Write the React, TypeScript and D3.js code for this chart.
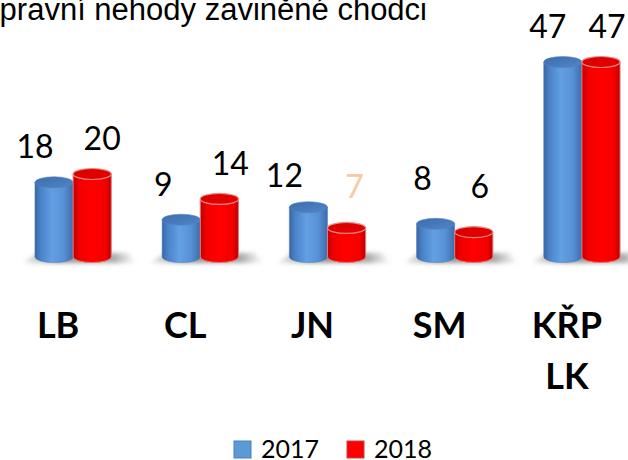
import React from "react";
import * as d3 from "d3";

const title = "Dopravní nehody zaviněné chodci";
const categories = ["LB", "CL", "JN", "SM", "KŘP\nLK"];
const seriesNames = ["2017", "2018"];
const values2017 = [18, 9, 12, 8, 47];
const values2018 = [20, 14, 7, 6, 47];
const labelColors2018 = ["#000", "#000", "#F8C9A4", "#000", "#000"];
const labelDx2017 = [-19, -18, -24, -13, -15];
const labelDx2018 = [10, 11, 8, 6, 6];
const labelDy2017 = [0, 0, 4, -8, 0];

const W = 628;
const H = 460;

export default function App() {
  const x0 = d3.scaleBand<string>().domain(categories).range([9.5, 645.5]).paddingInner(0.4).paddingOuter(0.2);
  const x1 = d3.scaleBand<string>().domain(seriesNames).range([0, x0.bandwidth()]);
  const y = d3.scaleLinear().domain([0, 47]).range([257, 62]);
  const series = [values2017, values2018];
  const rx = x1.bandwidth() / 2;
  const ry = 5.5;

  const cyl = (cx: number, yt: number, yb: number) =>
    `M${cx - rx},${yt} L${cx - rx},${yb} A${rx},${ry} 0 0 0 ${cx + rx},${yb} L${cx + rx},${yt} Z`;

  return (
    <svg width={W} height={H} style={{ position: "absolute", left: 0, top: 0, background: "#fff" }}>
      <defs>
        <linearGradient id="blueBody" x1="0" x2="1" y1="0" y2="0">
          <stop offset="0%" stopColor="#3a66a3" />
          <stop offset="15%" stopColor="#4b82c8" />
          <stop offset="45%" stopColor="#62a0e2" />
          <stop offset="75%" stopColor="#5892d6" />
          <stop offset="100%" stopColor="#3c6cab" />
        </linearGradient>
        <linearGradient id="blueTop" x1="0" x2="1" y1="0" y2="1">
          <stop offset="0%" stopColor="#3e6cab" />
          <stop offset="100%" stopColor="#4f86c8" />
        </linearGradient>
        <linearGradient id="redBody" x1="0" x2="1" y1="0" y2="0">
          <stop offset="0%" stopColor="#c40000" />
          <stop offset="18%" stopColor="#f20000" />
          <stop offset="50%" stopColor="#ff0000" />
          <stop offset="85%" stopColor="#f40000" />
          <stop offset="100%" stopColor="#b80000" />
        </linearGradient>
        <linearGradient id="redTop" x1="0" x2="1" y1="0" y2="1">
          <stop offset="0%" stopColor="#d60000" />
          <stop offset="100%" stopColor="#e80000" />
        </linearGradient>
        <linearGradient id="shadowGrad" x1="0" x2="1" y1="0" y2="0">
          <stop offset="0%" stopColor="#999" stopOpacity="0.2" />
          <stop offset="30%" stopColor="#777" stopOpacity="0.8" />
          <stop offset="80%" stopColor="#888" stopOpacity="0.7" />
          <stop offset="100%" stopColor="#aaa" stopOpacity="0" />
        </linearGradient>
        <filter id="blur" x="-20%" y="-50%" width="140%" height="200%">
          <feGaussianBlur stdDeviation="2" />
        </filter>
      </defs>

      <text x={427} y={19.5} textAnchor="end" fontFamily="'Liberation Sans', Arial, sans-serif" fontSize={31} fill="#000">
        {title}
      </text>

      {categories.map((c) => {
        const gx = x0(c)!;
        const bw = x0.bandwidth();
        return (
          <path
            key={"sh" + c}
            d={`M${gx - 12},${y(0) + 6} L${gx + 2},${y(0) - 4} L${gx + bw + 16},${y(0) - 4} L${gx + bw + 26},${y(0) + 6} Z`}
            fill="url(#shadowGrad)"
            filter="url(#blur)"
          />
        );
      })}

      {categories.map((c, i) =>
        seriesNames.map((s, si) => {
          const v = series[si][i];
          const cx = x0(c)! + x1(s)! + rx;
          const yt = y(v);
          const yb = y(0);
          const isRed = si === 1;
          return (
            <g key={c + s}>
              <path
                d={cyl(cx, yt, yb)}
                fill={isRed ? "url(#redBody)" : "url(#blueBody)"}
                stroke={isRed ? "#e07a7a" : "#4a7cbf"}
                strokeWidth={isRed ? 1 : 0.5}
              />
              <ellipse
                cx={cx}
                cy={yt}
                rx={rx}
                ry={ry}
                fill={isRed ? "url(#redTop)" : "url(#blueTop)"}
                stroke={isRed ? "#ee8888" : "#4d83c6"}
                strokeWidth={isRed ? 1.2 : 0.6}
              />
            </g>
          );
        })
      )}

      {categories.map((c, i) =>
        seriesNames.map((s, si) => {
          const v = series[si][i];
          const cx = x0(c)! + x1(s)! + rx;
          const dx = si === 0 ? labelDx2017[i] : labelDx2018[i];
          const dy = si === 0 ? labelDy2017[i] : 0;
          const base = Math.min(y(v) - 24, 198) + dy;
          return (
            <text
              key={"l" + c + s}
              x={cx + dx}
              y={base}
              textAnchor="middle"
              fontFamily="Lato, 'Open Sans', sans-serif"
              fontSize={32}
              fill={si === 1 ? labelColors2018[i] : "#000"}
            >
              {v}
            </text>
          );
        })
      )}

      {categories.map((c) => {
        const cx = x0(c)! + x0.bandwidth() / 2 - 15;
        const lines = c.split("\n");
        return (
          <text
            key={"c" + c}
            textAnchor="middle"
            fontFamily="Lato, 'Open Sans', sans-serif"
            fontWeight="bold"
            fontSize={36}
            fill="#000"
          >
            {lines.map((ln, li) => (
              <tspan key={li} x={cx} y={338 + li * 51}>
                {ln}
              </tspan>
            ))}
          </text>
        );
      })}

      {seriesNames.map((s, si) => {
        const lx = 234 + si * 113;
        return (
          <g key={"lg" + s}>
            <rect
              x={lx}
              y={441}
              width={17}
              height={17}
              fill={si === 0 ? "#5b9bd5" : "#ff0000"}
              stroke={si === 0 ? "#4a7fc0" : "#c84040"}
              strokeWidth={1}
            />
            <text x={lx + 27} y={458} fontFamily="Lato, 'Open Sans', sans-serif" fontSize={25} fill="#000">
              {s}
            </text>
          </g>
        );
      })}
    </svg>
  );
}
